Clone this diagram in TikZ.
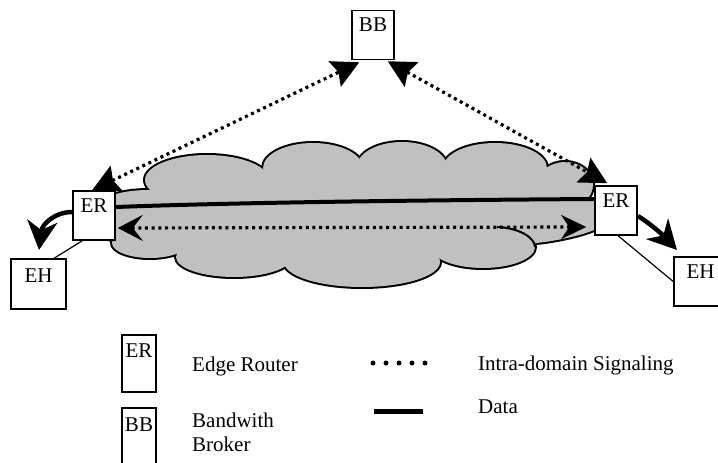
\documentclass[tikz,border=0pt]{standalone}
\usepackage{fontspec}
\setmainfont{Liberation Serif}
\usetikzlibrary{arrows.meta}
\definecolor{cloudgray}{RGB}{192,192,192}
\newcommand{\cldpaths}[1]{%
  \path[#1] (95,218) .. controls (95,200) and (112,190) .. (150,190) -- (530,192)
     .. controls (585,193) and (612,202) .. (612,214)
     .. controls (612,226) and (585,236) .. (545,242)
     .. controls (520,245) and (500,246) .. (480,246) -- (150,246)
     .. controls (112,246) and (95,236) .. (95,218) -- cycle;
  \path[#1] (207,180) ellipse [x radius=62pt, y radius=25pt];
  \path[#1] (313,168) ellipse [x radius=50pt, y radius=25pt];
  \path[#1] (402,167) ellipse [x radius=45pt, y radius=25pt];
  \path[#1] (495,168) ellipse [x radius=52pt, y radius=25pt];
  \path[#1] (565,185) ellipse [x radius=28pt, y radius=23pt];
  \path[#1] (150,243) ellipse [x radius=38pt, y radius=15pt];
  \path[#1] (234,257) ellipse [x radius=58pt, y radius=20pt];
  \path[#1] (362,262) ellipse [x radius=78pt, y radius=25pt];
  \path[#1] (483,247) ellipse [x radius=52pt, y radius=21pt];
}
\tikzset{
  box/.style={draw, line width=1.6pt, fill=white, inner sep=0pt,
    text height=21pt, text depth=28pt, minimum width=42pt,
    font=\fontsize{21}{24}\selectfont},
  legtext/.style={inner sep=0pt, font=\fontsize{21}{24}\selectfont},
  signal/.style={line width=3.2pt, dash pattern=on 3pt off 3.7pt},
  datal/.style={line width=4pt},
  thickarrow/.style={line width=4.5pt, -{Stealth[length=29pt,width=30pt,inset=9pt]}},
  thinline/.style={line width=1.2pt},
  sigarrows/.style={{Stealth[length=25pt,width=26pt,inset=10pt]}-{Stealth[length=25pt,width=24pt,inset=8pt]}},
  diagarrows/.style={{Stealth[length=27pt,width=28pt,inset=4pt]}-{Stealth[length=27pt,width=28pt,inset=4pt]}},
  legdots/.style={line width=5pt, line cap=round, dash pattern=on 0pt off 13pt},
  legdata/.style={line width=5pt}
}
\begin{document}
\begin{tikzpicture}[x=1pt,y=-1pt]
\path[use as bounding box, clip] (0,0) rectangle (718,463);

% cloud
\cldpaths{draw=black, line width=4pt, fill=cloudgray}
\cldpaths{fill=cloudgray}
\fill[cloudgray] (155,192) -- (207,170) -- (266,176) -- (313,165) -- (360,172) -- (402,165)
  -- (445,170) -- (495,165) -- (542,180) -- (575,195) -- (580,215) -- (150,215) -- cycle;
\fill[cloudgray] (150,230) -- (150,240) -- (182,249) -- (234,250) -- (288,256) -- (362,255)
  -- (436,255) -- (483,250) -- (530,242) -- (540,235) -- cycle;
\draw[line width=2pt] (497,227) .. controls (520,228) and (535,238) .. (535,247);

% nodes
\node[box] (bb) at (373,35) {BB};
\node[box] (erl) at (94,215.5) {ER};
\node[box, minimum width=55pt, text height=23pt, text depth=27pt] (ehl) at (38.5,284) {EH};
\node[box] (err) at (616,210.5) {ER};
\node[box, minimum width=53pt] (ehr) at (700.5,281.5) {EH};

\coordinate (tipl) at (39,250);
\coordinate (tipr) at (677,250);

% data line
\draw[datal] ([yshift=8.5pt]erl.east) .. controls (250,202) and (450,200) .. ([yshift=11.5pt]err.west);
% signalling
\draw[signal, sigarrows] ([xshift=2pt,yshift=-12.5pt]erl.east) -- ([xshift=-8pt,yshift=-16.5pt]err.west);
\draw[signal, diagarrows] ([xshift=20pt]erl.north west) -- ([xshift=8pt,yshift=-2pt]bb.south west);
\draw[signal, diagarrows] ([xshift=-7pt,yshift=-1pt]bb.south east) -- ([xshift=13pt,yshift=2pt]err.north west);
% thick arrows to hosts
\draw[thickarrow] ([yshift=3.5pt]erl.west) .. controls (55,212) and (42,224) .. (tipl);
\draw[thickarrow] ([yshift=-5.5pt]err.east) .. controls (648,222) and (662,234) .. (tipr);
% thin links
\draw[thinline] ([xshift=10pt]erl.south west) -- ([xshift=44pt]ehl.north west);
\draw[thinline] ([xshift=24pt]err.south west) -- (ehr.west);

% redraw boxes on top
\node[box] at (bb) {BB};
\node[box] at (erl) {ER};
\node[box, minimum width=55pt, text height=23pt, text depth=27pt] at (ehl) {EH};
\node[box] at (err) {ER};
\node[box, minimum width=53pt] at (ehr) {EH};

% legend
\node[box, minimum width=34pt, text height=22pt, text depth=35pt] (lger) at (139,363.5) {ER};
\node[box, minimum width=34pt, text height=23pt, text depth=44pt] (lgbb) at (139,441.5) {BB};
\node[legtext, anchor=base west] (t1) at (192,371) {Edge Router};
\node[legtext, anchor=base west] (t2) at (192,427) {Bandwith};
\node[legtext, anchor=base west] (t3) at (192,451) {Broker};
\coordinate (dotsA) at (373,363);
\coordinate (dotsB) at (426,363);
\draw[legdots] (dotsA) -- (dotsB);
\coordinate (dataA) at (374,411);
\coordinate (dataB) at (423,411);
\draw[legdata] (dataA) -- (dataB);
\node[legtext, anchor=base west] (t4) at (478,370) {Intra-domain Signaling};
\node[legtext, anchor=base west] (t5) at (478,413) {Data};
\end{tikzpicture}
\end{document}
